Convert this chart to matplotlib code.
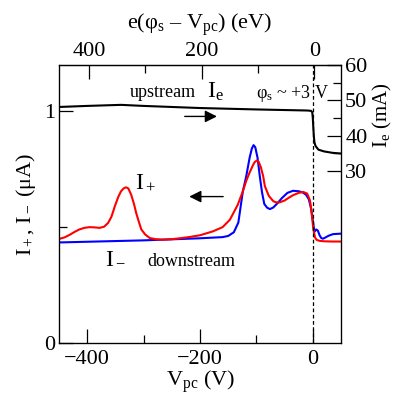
import numpy as np
import matplotlib
matplotlib.use('Agg')
import matplotlib.pyplot as plt

plt.rcParams['font.family'] = ['Liberation Serif', 'DejaVu Serif']
plt.rcParams['mathtext.fontset'] = 'custom'
plt.rcParams['mathtext.rm'] = 'Liberation Serif'
plt.rcParams['mathtext.it'] = 'Liberation Serif:italic'

PHI_S = 3  # plasma potential (V)

# electron current I_e (mA), right axis
ie_v = [-450, -400, -340, -300, -200, -100, -10, -3, -1, 0, 1, 2, 3, 5, 10, 20, 35, 50]
ie_ma = [48.1, 48.4, 48.7, 48.4, 47.8, 47.4, 47.1, 47.0, 46.6, 45.0, 42.0, 39.5, 38.0,
         37.0, 36.0, 35.5, 35.1, 34.9]

# downstream current I_- (uA)
im_v = [-450, -400, -300, -200, -160, -150, -140, -132, -124, -118, -112, -108, -105,
        -102, -98, -94, -90, -86, -81, -76, -70, -62, -55, -45, -35, -25, -18, -12,
        -7, -3, 0, 3, 6, 9, 12, 15, 18, 22, 28, 36, 50]
im_ua = [0.434, 0.437, 0.443, 0.452, 0.457, 0.462, 0.478, 0.52, 0.655, 0.72, 0.80, 0.84,
         0.854, 0.845, 0.80, 0.72, 0.65, 0.60, 0.584, 0.578, 0.585, 0.605, 0.625, 0.648,
         0.657, 0.655, 0.65, 0.64, 0.62, 0.58, 0.53, 0.48, 0.49, 0.485, 0.465, 0.453,
         0.450, 0.455, 0.463, 0.470, 0.472]

# upstream current I_+ (uA)
ip_v = [-450, -440, -431, -422, -414, -405, -396, -387, -378, -370, -363, -357, -351,
        -345, -340, -335, -331, -327, -322, -317, -313, -308, -304, -297, -289, -278,
        -266, -250, -236, -220, -200, -177, -160, -147, -133, -124, -118, -112, -106,
        -103, -99, -96, -92, -88, -85, -78, -70, -65, -59, -50, -42, -35, -25, -17,
        -10, -5, -2, 1, 4, 7, 12, 20, 35, 50]
ip_ua = [0.449, 0.456, 0.467, 0.480, 0.490, 0.497, 0.500, 0.499, 0.497, 0.502, 0.518,
         0.545, 0.59, 0.63, 0.655, 0.668, 0.672, 0.667, 0.64, 0.60, 0.56, 0.52, 0.49,
         0.468, 0.453, 0.448, 0.446, 0.448, 0.452, 0.457, 0.465, 0.482, 0.500, 0.532,
         0.597, 0.655, 0.70, 0.736, 0.768, 0.781, 0.788, 0.782, 0.758, 0.72, 0.677,
         0.635, 0.612, 0.607, 0.607, 0.615, 0.628, 0.638, 0.648, 0.652, 0.645, 0.615,
         0.56, 0.49, 0.455, 0.445, 0.441, 0.439, 0.438, 0.438]

fig = plt.figure(figsize=(3.94, 3.98), dpi=100)
ax = fig.add_axes([0.1497, 0.1382, 0.7158, 0.6985])

ax.plot(im_v, im_ua, color='#0000ff', lw=1.5)
ax.plot(ip_v, ip_ua, color='#ff0000', lw=1.5)
ax.axvline(0, color='k', lw=0.9, ls=(0, (3, 2)))

ax.set_xlim(-450, 50)
ax.set_ylim(0, 1.2)
ax.set_xticks([-400, -200, 0])
ax.set_xticks([-300, -100], minor=True)
ax.set_xticklabels(['\u2212400', '\u2212200', '0'])
ax.set_yticks([0, 1])
ax.set_yticks([0.5], minor=True)
ax.tick_params(which='both', direction='in', labelsize=16, width=0.9)
ax.tick_params(which='major', length=10)
ax.tick_params(which='minor', length=6)
ax.tick_params(axis='y', which='both', right=False, pad=3)
ax.tick_params(axis='x', which='both', top=False, pad=5)
for s in ax.spines.values():
    s.set_linewidth(0.9)
ax.set_xlabel('V$_\\mathrm{pc}$ (V)', fontsize=16, labelpad=0)
ax.set_ylabel('I$_+$, I$_-$ (\u03bcA)', fontsize=16, labelpad=4)

# top axis: e(phi_s - V_pc)
top = ax.secondary_xaxis('top', functions=(lambda v: PHI_S - v, lambda e: PHI_S - e))
top.set_xticks([400, 200, 0])
top.set_xticks([300, 100], minor=True)
top.tick_params(which='both', direction='in', labelsize=16, width=0.9, pad=3)
top.tick_params(which='major', length=10)
top.tick_params(which='minor', length=6)
top.set_xlabel('e(\u03c6$_\\mathrm{s}$ \u2013 V$_\\mathrm{pc}$) (eV)', fontsize=16, labelpad=9)

# right axis: I_e
ax2 = ax.twinx()
ax2.plot(ie_v, ie_ma, color='k', lw=1.5)
ax2.set_ylim(-18.8, 60)
ax2.set_yticks([30, 40, 50, 60])
ax2.set_yticks([35, 45, 55], minor=True)
ax2.tick_params(which='both', direction='in', labelsize=16, width=0.9, pad=3)
ax2.tick_params(which='major', length=10)
ax2.tick_params(which='minor', length=6)
ax2.set_ylabel('I$_\\mathrm{e}$ (mA)', fontsize=15)
ax2.yaxis.set_label_coords(1.105, 0.82)

# annotations
ax.text(-266, 1.08, 'upstream', fontsize=13, ha='center', va='center')
ax.text(-172, 1.085, 'I$_\\mathrm{e}$', fontsize=17, ha='center', va='center')
ax.text(-36, 1.075, '\u03c6$_\\mathrm{s}$ ~ +3 V', fontsize=13, ha='center', va='center')
ax.text(-296, 0.69, 'I$_+$', fontsize=17, ha='center', va='center')
ax.text(-350, 0.37, 'I$_-$', fontsize=17, ha='center', va='center')
ax.text(-215, 0.35, 'downstream', fontsize=13, ha='center', va='center')
ax.annotate('', xy=(-165, 0.978), xytext=(-232, 0.978),
            arrowprops=dict(arrowstyle='-|>', color='k', lw=1.0, mutation_scale=18))
ax.annotate('', xy=(-224, 0.632), xytext=(-154, 0.632),
            arrowprops=dict(arrowstyle='-|>', color='k', lw=1.0, mutation_scale=18))

fig.savefig('out.png', dpi=100)
